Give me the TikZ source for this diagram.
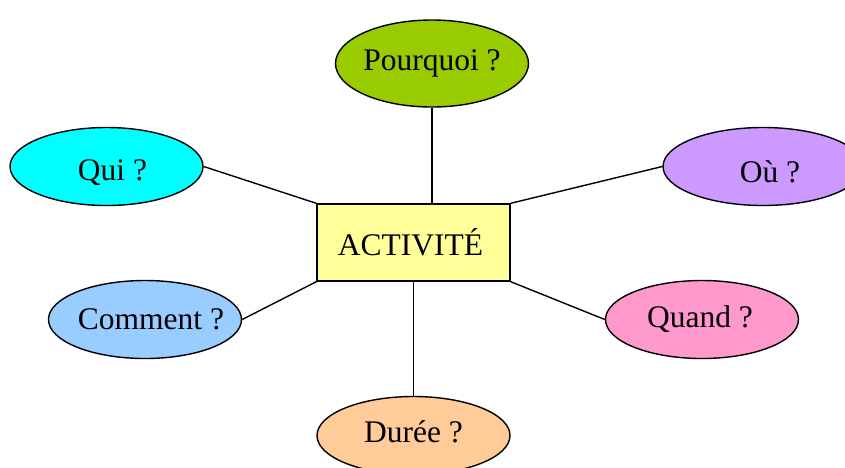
\documentclass[tikz,border=0pt]{standalone}
\usepackage{fontspec}
\setmainfont{Liberation Serif}
\usetikzlibrary{shapes.geometric}
\definecolor{cPour}{HTML}{99CC00}
\definecolor{cQui}{HTML}{00FFFF}
\definecolor{cOu}{HTML}{CC99FF}
\definecolor{cCom}{HTML}{99CCFF}
\definecolor{cQuand}{HTML}{FF99CC}
\definecolor{cDur}{HTML}{FFCC99}
\definecolor{cAct}{HTML}{FFFF99}
\newcommand{\zwtext}[3]{\makebox[0pt]{\hspace{#1}\smash{\raisebox{#2}{#3}}\vphantom{#3}}}
\tikzset{
  q/.style={ellipse, draw=black, line width=1.4pt, inner sep=0pt,
    minimum width=193pt, minimum height=78pt,
    font=\fontsize{31.5}{36}\selectfont},
  actbox/.style={rectangle, draw=black, line width=1.4pt, fill=cAct, inner sep=0pt,
    minimum width=193pt, minimum height=77pt, font=\fontsize{31.5}{36}\selectfont},
  link/.style={line width=1.4pt}
}
\begin{document}
\begin{tikzpicture}[x=1pt,y=-1pt]
\useasboundingbox (0,0) rectangle (845,467);
\clip (0,0) rectangle (845,467);
\node[actbox] (act) at (413.5,242.5) {\zwtext{-6pt}{0pt}{ACTIVITÉ}};
\node[q, fill=cPour, minimum height=87pt] (pour) at (432,63.5) {\zwtext{0pt}{0pt}{Pourquoi ?}};
\node[q, fill=cQui] (qui) at (106.5,166.5) {\zwtext{12pt}{-6pt}{Qui ?}};
\node[q, fill=cOu, minimum width=200pt] (ou) at (763,166.5) {\zwtext{14pt}{-5pt}{Où ?}};
\node[q, fill=cCom] (com) at (145,319.5) {\zwtext{12pt}{0pt}{Comment ?}};
\node[q, fill=cQuand] (quand) at (702,319.5) {\zwtext{-4pt}{0pt}{Quand ?}};
\node[q, fill=cDur] (dur) at (413.5,435.5) {\zwtext{0pt}{4pt}{Durée ?}};
\draw[link] (pour.south) -- (pour.south |- act.north);
\draw[link] (qui.east) -- (act.north west);
\draw[link] (ou.west) -- (act.north east);
\draw[link] (com.east) -- (act.south west);
\draw[link] (quand.west) -- (act.south east);
\draw[link] (act.south) -- (dur.north);
\end{tikzpicture}
\end{document}
